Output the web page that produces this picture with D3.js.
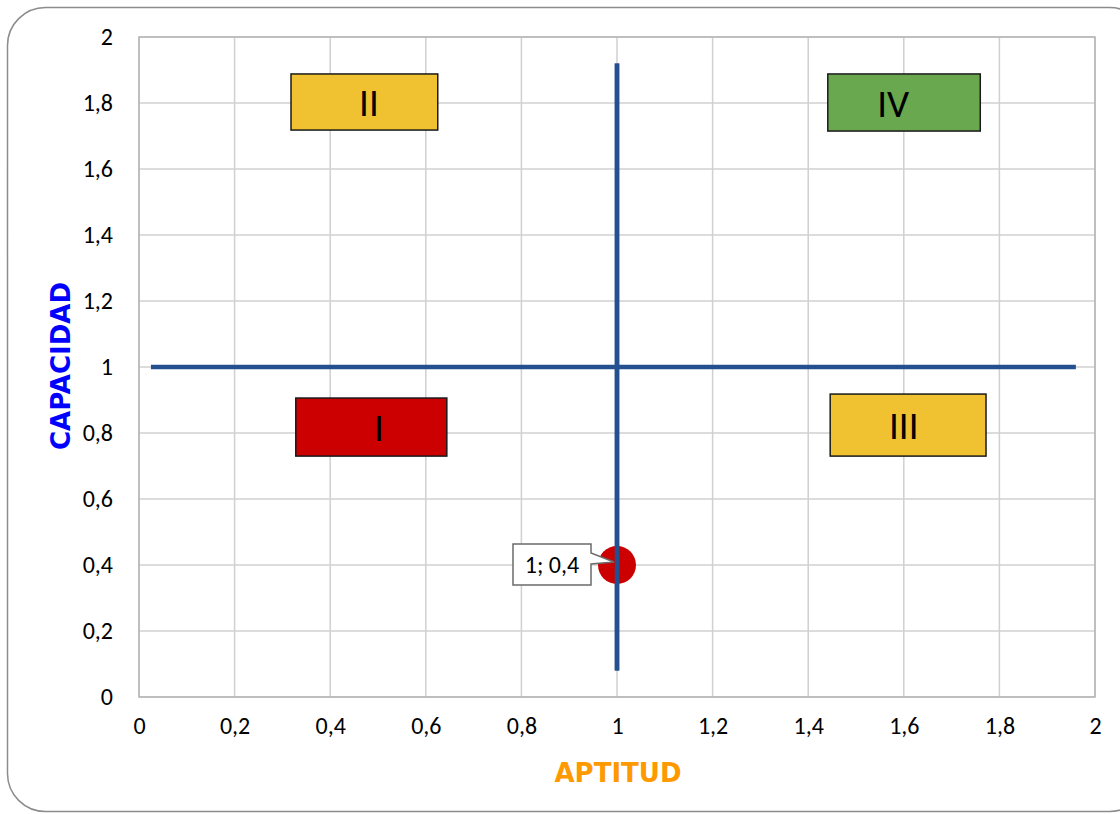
<!DOCTYPE html>
<html><head><meta charset="utf-8">
<script src="https://cdn.jsdelivr.net/npm/d3@7"></script>
<style>body{margin:0;background:#fff}svg{display:block}</style>
</head><body><svg id="c" width="1120" height="814"></svg>
<script>
// Data
const xTicks = [0,0.2,0.4,0.6,0.8,1,1.2,1.4,1.6,1.8,2];
const yTicks = [0,0.2,0.4,0.6,0.8,1,1.2,1.4,1.6,1.8,2];
const hLine = {x:[0.025,1.96], y:[1,1]};
const vLine = {x:[1,1], y:[0.08,1.92]};
const quadLabels = ["I","II","III","IV"];
const quadColors = ["#CC0000","#F0C232","#F0C232","#6AA84F"];
const quadX0 = [0.328,0.318,1.446,1.441];
const quadX1 = [0.644,0.625,1.772,1.760];
const quadY0 = [0.730,1.718,0.730,1.715];
const quadY1 = [0.906,1.888,0.918,1.888];
const quadTextX = [0.502,0.481,1.600,1.578];
const pointX = [1];
const pointY = [0.4];
const pointLabels = ["1; 0,4"];

const svg = d3.select("#c");
const font = "Carlito, Lato, 'Open Sans', sans-serif";
const titleFont = "Verdana, 'DejaVu Sans', sans-serif";
const L=139,R=1095,T=37,B=697;
const x = d3.scaleLinear().domain([0,2]).range([L,R]);
const y = d3.scaleLinear().domain([0,2]).range([B,T]);
const fmt = d => String(d).replace(".",",");

// outer border
svg.append("rect").attr("x",7.5).attr("y",7.5).attr("width",1140).attr("height",804)
  .attr("rx",38).attr("fill","#fff").attr("stroke","#8c8c8c").attr("stroke-width",1.5);

// grid
svg.append("g").selectAll("line").data(xTicks).join("line")
  .attr("x1",d=>x(d)).attr("x2",d=>x(d)).attr("y1",T).attr("y2",B)
  .attr("stroke","#d0d0d0").attr("stroke-width",1.5);
svg.append("g").selectAll("line").data(yTicks).join("line")
  .attr("y1",d=>y(d)).attr("y2",d=>y(d)).attr("x1",L).attr("x2",R)
  .attr("stroke","#d0d0d0").attr("stroke-width",1.5);
svg.append("rect").attr("x",L).attr("y",T).attr("width",R-L).attr("height",B-T)
  .attr("fill","none").attr("stroke","#b5b5b5").attr("stroke-width",1.5);

// axes
const xa = svg.append("g").attr("transform",`translate(0,${B})`)
  .call(d3.axisBottom(x).tickValues(xTicks).tickFormat(fmt).tickSize(0).tickPadding(20));
const ya = svg.append("g").attr("transform",`translate(${L},0)`)
  .call(d3.axisLeft(y).tickValues(yTicks).tickFormat(fmt).tickSize(0).tickPadding(26));
[xa,ya].forEach(a=>{a.select(".domain").remove();
  a.selectAll("text").attr("font-family",font).attr("font-size",24).attr("fill","#000");});

// axis titles
svg.append("text").attr("x",618).attr("y",782).attr("text-anchor","middle")
  .attr("font-family",titleFont).attr("font-weight","bold").attr("font-size",26)
  .attr("fill","#FF9900").text("APTITUD");
svg.append("text").attr("transform","translate(70,366) rotate(-90)").attr("text-anchor","middle")
  .attr("font-family",titleFont).attr("font-weight","bold").attr("font-size",26)
  .attr("fill","#0000FF").text("CAPACIDAD");

// quadrant lines
const line = d3.line().x(d=>x(d[0])).y(d=>y(d[1]));
[hLine,vLine].forEach(l=>{
  svg.append("path").attr("d",line(l.x.map((v,i)=>[v,l.y[i]])))
    .attr("stroke","#24508F").attr("stroke-width",4.5).attr("fill","none");
});

// quadrant boxes
const qg = svg.append("g").selectAll("g").data(quadLabels).join("g");
qg.append("rect").attr("x",(d,i)=>x(quadX0[i])).attr("y",(d,i)=>y(quadY1[i]))
  .attr("width",(d,i)=>x(quadX1[i])-x(quadX0[i])).attr("height",(d,i)=>y(quadY0[i])-y(quadY1[i]))
  .attr("fill",(d,i)=>quadColors[i]).attr("stroke","#1a1a1a").attr("stroke-width",1.5);
qg.append("text").attr("x",(d,i)=>x(quadTextX[i]))
  .attr("y",(d,i)=>(y(quadY0[i])+y(quadY1[i]))/2+14)
  .attr("text-anchor","middle").attr("font-family",font).attr("font-size",39).attr("fill","#000")
  .text(d=>d);

// point
svg.append("g").selectAll("circle").data(pointX).join("circle")
  .attr("cx",(d,i)=>x(d)).attr("cy",(d,i)=>y(pointY[i])).attr("r",19).attr("fill","#CC0000");
// re-draw vertical line over the point
svg.append("path").attr("d",line(vLine.x.map((v,i)=>[v,vLine.y[i]])))
  .attr("stroke","#24508F").attr("stroke-width",4.5).attr("fill","none");

// data label callout
pointLabels.forEach((t,i)=>{
  const px=x(pointX[i]), py=y(pointY[i]);
  const bx0=px-104, bx1=px-26, by0=py-21, by1=py+20;
  svg.append("path")
    .attr("d",`M${bx0},${by0} H${bx1} V${py-12} L${px-3},${py-3} L${bx1},${py-1} V${by1} H${bx0} Z`)
    .attr("fill","#fff").attr("stroke","#6b6b6b").attr("stroke-width",1.5);
  svg.append("text").attr("x",(bx0+bx1)/2).attr("y",py+8).attr("text-anchor","middle")
    .attr("font-family",font).attr("font-size",24).attr("fill","#000").text(t);
});
</script></body></html>
